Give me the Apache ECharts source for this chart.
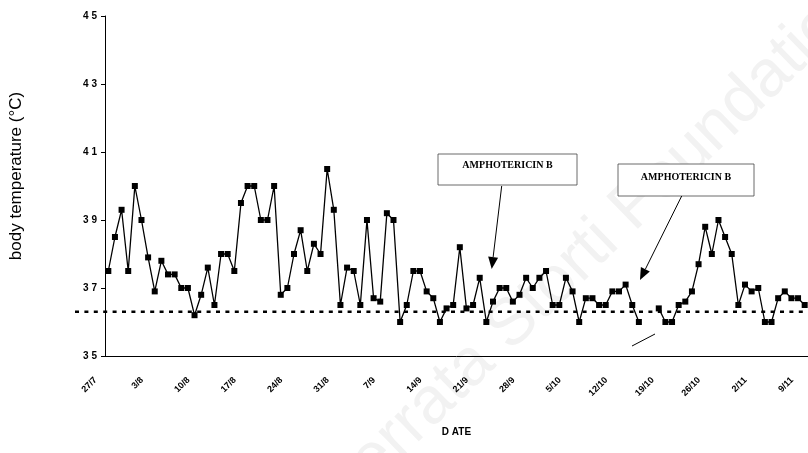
<!DOCTYPE html>
<html>
<head>
<meta charset="utf-8">
<script src="https://cdn.jsdelivr.net/npm/echarts@6/dist/echarts.min.js"></script>
<style>
  html, body { margin: 0; padding: 0; background: #fff; }
  #chart { width: 808px; height: 453px; }
</style>
</head>
<body>
<div id="chart"></div>
<script>
// daily body temperature, null = no reading that day
const temps = [
  37.5, 38.5, 39.3, 37.5, 40.0, 39.0, 37.9, 36.9, 37.8, 37.4,
  37.4, 37.0, 37.0, 36.2, 36.8, 37.6, 36.5, 38.0, 38.0, 37.5,
  39.5, 40.0, 40.0, 39.0, 39.0, 40.0, 36.8, 37.0, 38.0, 38.7,
  37.5, 38.3, 38.0, 40.5, 39.3, 36.5, 37.6, 37.5, 36.5, 39.0,
  36.7, 36.6, 39.2, 39.0, 36.0, 36.5, 37.5, 37.5, 36.9, 36.7,
  36.0, 36.4, 36.5, 38.2, 36.4, 36.5, 37.3, 36.0, 36.6, 37.0,
  37.0, 36.6, 36.8, 37.3, 37.0, 37.3, 37.5, 36.5, 36.5, 37.3,
  36.9, 36.0, 36.7, 36.7, 36.5, 36.5, 36.9, 36.9, 37.1, 36.5,
  36.0, null, null, 36.4, 36.0, 36.0, 36.5, 36.6, 36.9, 37.7,
  38.8, 38.0, 39.0, 38.5, 38.0, 36.5, 37.1, 36.9, 37.0, 36.0,
  36.0, 36.7, 36.9, 36.7, 36.7, 36.5
];

// first day shown on the axis (27/7), one category per day
const startDate = new Date(2001, 6, 27);
const days = temps.map((t, i) => {
  const d = new Date(startDate);
  d.setDate(d.getDate() + i);
  return d.getDate() + '/' + (d.getMonth() + 1);
});

const normalTemp = 36.3;   // dotted reference line
const yMin = 35, yMax = 45, yStep = 2;
const drugLabel = 'AMPHOTERICIN B';

const chart = echarts.init(document.getElementById('chart'));

const option = {
  animation: false,
  grid: { left: 105, right: -1, top: 16, bottom: 97 },
  xAxis: {
    type: 'category',
    data: days,
    boundaryGap: true,
    name: 'D ATE',
    nameLocation: 'middle',
    nameGap: 71,
    nameTextStyle: { fontFamily: 'Liberation Sans', fontWeight: 'bold', fontSize: 10, color: '#000' },
    axisLine: { lineStyle: { color: '#000', width: 1 } },
    axisTick: { interval: 6, length: 5, lineStyle: { color: '#000' } },
    axisLabel: {
      interval: 6,
      rotate: 45,
      margin: 10,
      padding: [0, 18, 0, 0],
      fontFamily: 'Liberation Sans',
      fontWeight: 'bold',
      fontSize: 9,
      color: '#000'
    }
  },
  yAxis: {
    type: 'value',
    min: yMin,
    max: yMax,
    interval: yStep,
    name: 'body temperature (°C)',
    nameLocation: 'middle',
    nameRotate: 90,
    nameGap: 80,
    nameTextStyle: { fontFamily: 'Liberation Sans', fontSize: 17, color: '#000', padding: [0, 0, 0, 20] },
    splitLine: { show: false },
    axisLine: { show: true, lineStyle: { color: '#000', width: 1 } },
    axisTick: { show: true, length: 4, lineStyle: { color: '#000' } },
    axisLabel: {
      margin: 8,
      formatter: v => String(v).split('').join(' '),
      fontFamily: 'Liberation Sans',
      fontWeight: 'bold',
      fontSize: 10,
      color: '#000'
    }
  },
  series: [
    {
      type: 'line',
      data: temps,
      symbol: 'rect',
      symbolSize: 6,
      showSymbol: true,
      showAllSymbol: true,
      connectNulls: false,
      itemStyle: { color: '#000' },
      lineStyle: { color: '#000', width: 1.3 },
      z: 5
    }
  ]
};

chart.setOption(option);

// annotations (boxes + arrows), dotted normal line, faint watermark
const yNorm = chart.convertToPixel({ yAxisIndex: 0 }, normalTemp);

function arrow(x1, y1, x2, y2) {
  const ang = Math.atan2(y2 - y1, x2 - x1);
  const len = 12, half = 5;
  const bx = x2 - len * Math.cos(ang), by = y2 - len * Math.sin(ang);
  const px = -Math.sin(ang) * half, py = Math.cos(ang) * half;
  return [
    { type: 'line', shape: { x1: x1, y1: y1, x2: bx, y2: by }, style: { stroke: '#000', lineWidth: 1 }, z: 10 },
    { type: 'polygon', shape: { points: [[x2, y2], [bx + px, by + py], [bx - px, by - py]] }, style: { fill: '#000' }, z: 10 }
  ];
}

function box(x, y, w, h, ty) {
  return [
    { type: 'rect', shape: { x: x, y: y, width: w, height: h }, style: { fill: '#fff', stroke: '#444', lineWidth: 0.8 }, z: 10 },
    { type: 'text', x: x + w / 2, y: ty, style: { text: drugLabel, font: 'bold 10px "Liberation Serif"', fill: '#000', align: 'center', verticalAlign: 'middle' }, z: 11 }
  ];
}

chart.setOption({
  graphic: [
    {
      type: 'text', x: 595, y: 245, rotation: 0.77, z: 0,
      style: { text: 'Ferrata Storti Foundation', font: '66px "Liberation Sans"', fill: '#f2f2f2', align: 'center', verticalAlign: 'middle' }
    },
    {
      type: 'line', shape: { x1: 75, y1: yNorm, x2: 808, y2: yNorm },
      style: { stroke: '#000', lineWidth: 2.6, lineDash: [4, 5.4] }, z: 4
    },
    ...box(438, 154, 139, 31, 165),
    ...arrow(501.7, 186, 491.7, 269),
    ...box(618, 164, 136, 32, 177),
    ...arrow(681.7, 196, 640, 280),
    { type: 'line', shape: { x1: 632, y1: 346, x2: 655, y2: 334 }, style: { stroke: '#000', lineWidth: 1 }, z: 10 }
  ]
});
</script>
</body>
</html>
